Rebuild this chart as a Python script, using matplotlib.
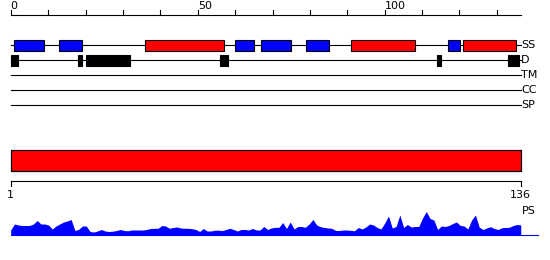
import numpy as np
import matplotlib.pyplot as plt
from matplotlib.patches import Rectangle

# Daten
seq_len = 136
tick_major = [0, 50, 100]
tick_minor = list(range(0, 140, 10))

# Sekundaerstruktur (Start, Ende)
helix = [(36, 57), (91, 108), (121, 135)]
strand = [(1, 9), (13, 19), (60, 65), (67, 75), (79, 85), (117, 120)]
# Unordnung
disorder = [(0, 2), (18, 19), (20, 32), (56, 58), (114, 115), (133, 136)]

track_labels = ["SS", "D", "TM", "CC", "SP"]

# PS Profil (Hoehe je Residue)
ps = [5, 11, 10, 9.5, 9.5, 9.5, 11, 14.5, 11, 11,
      10, 6, 9, 11, 13, 14, 15.5, 4.5, 5.7, 9,
      9, 3.5, 3, 4, 5.5, 4, 3.5, 3.8, 4.5, 5.5,
      4.5, 4.2, 5, 5, 5, 5, 5.5, 6.5, 6.7, 6.7,
      9.5, 9, 6.7, 7.5, 8, 7, 6.7, 6.7, 6.3, 5.5,
      3.5, 6.5, 4, 4, 4.8, 4.8, 4.4, 5.5, 6.7, 5.5,
      4, 5.5, 5.5, 5, 6.5, 5, 5, 8.5, 5.5, 7,
      7.7, 7.7, 12.5, 6.5, 13, 6, 8.5, 8.5, 7.7, 11,
      15.5, 10, 8.3, 7.5, 7, 6.7, 4.5, 4.5, 5, 5,
      4.6, 4.3, 7.5, 6, 8, 11, 10, 7.5, 6, 12,
      19, 7, 8.5, 20, 7.5, 10.5, 8, 8.5, 8.5, 17,
      23.5, 16.5, 15, 5.5, 9, 8.5, 9.5, 11.5, 13, 9.5,
      9, 6, 15, 20, 8, 5.5, 7, 8.3, 6.5, 5.5,
      7.3, 7.5, 7.7, 9.5, 10.5, 10]
ps = np.array(ps)
res = np.arange(1, seq_len + 1)

W, H = 550, 260
x0 = 10.7
fig = plt.figure(figsize=(W / 100, H / 100), dpi=100)

# oberer Teil: 0-basierte Achse
sc_top = 3.74
ax = fig.add_axes([0, 0, 1, 1])
ax.set_xlim(-x0 / sc_top, (W - x0) / sc_top)
ax.set_ylim(H, 0)
ax.axis("off")

end = seq_len + 0.5
ax.plot([0, end], [15, 15], color="black", lw=0.8)
for t in tick_minor:
    ax.plot([t, t], [10, 15], color="black", lw=0.8)
for t in tick_major:
    ax.text(t, 1, str(t), ha="left", va="top", fontsize=8)

row_y = [45, 60, 75, 90, 105]
for y, lab in zip(row_y, track_labels):
    ax.plot([0, end], [y, y], color="black", lw=0.8, zorder=1)
    ax.text(end, y, lab, ha="left", va="center", fontsize=8)

for s, e in helix:
    ax.add_patch(Rectangle((s, 40), e - s, 10.5, fc="#ff0000", ec="black", lw=0.8, zorder=2))
for s, e in strand:
    ax.add_patch(Rectangle((s, 40), e - s, 10.5, fc="#0000ff", ec="black", lw=0.8, zorder=2))
for s, e in disorder:
    ax.add_patch(Rectangle((s, 55), e - s, 10.5, fc="black", ec="black", lw=0.8, zorder=2))

# unterer Teil: 1-basierte Achse
sc_bot = 3.778
ax2 = fig.add_axes([0, 0, 1, 1])
ax2.set_xlim(1 - x0 / sc_bot, 1 + (W - x0) / sc_bot)
ax2.set_ylim(H, 0)
ax2.axis("off")
ax2.patch.set_alpha(0)

ax2.add_patch(Rectangle((1, 150), seq_len - 1, 20.5, fc="#ff0000", ec="black", lw=0.9))
ax2.plot([1, seq_len], [180.5, 180.5], color="black", lw=0.8)
for t in [1, seq_len]:
    ax2.plot([t, t], [180.5, 186], color="black", lw=0.8)
    ax2.text(t, 189.5, str(t), ha="center", va="top", fontsize=8)

ax2.text(seq_len + 0.3, 211, "PS", ha="left", va="center", fontsize=8)
ax2.plot([1, seq_len + 4.6], [235, 235], color="#0000ff", lw=0.8)
ax2.fill_between(res, 235, 235 - ps, color="#0000ff", lw=0)

fig.savefig("out.png", dpi=100)
